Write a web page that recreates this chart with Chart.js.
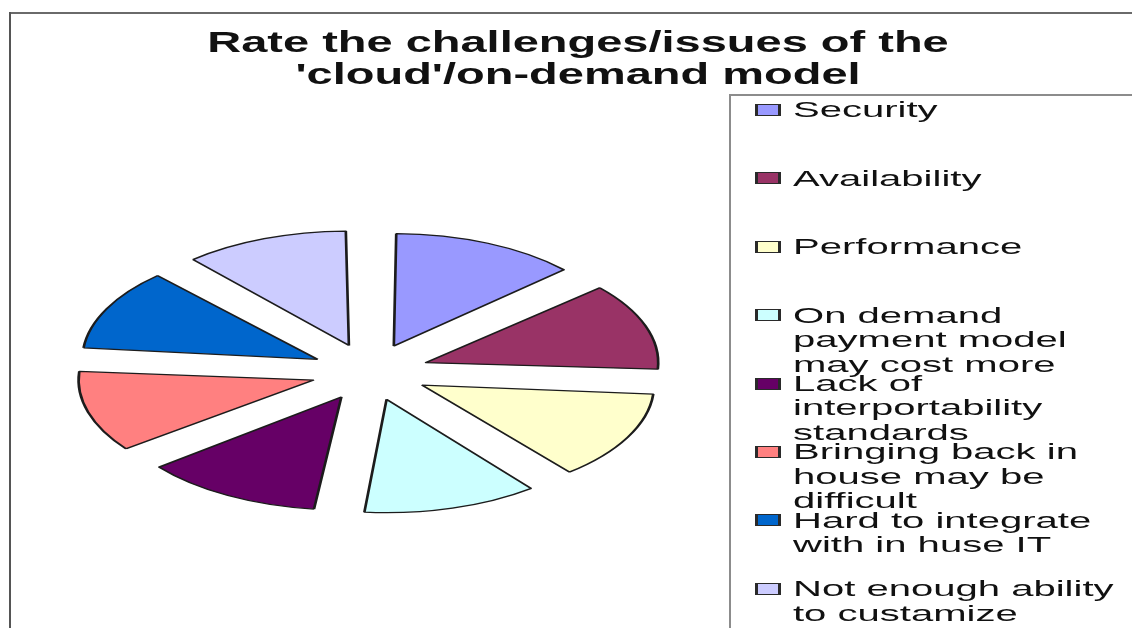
<!DOCTYPE html>
<html>
<head>
<meta charset="utf-8">
<script src="https://cdn.jsdelivr.net/npm/chart.js@4.4.1/dist/chart.umd.min.js"></script>
<style>
  html, body { margin:0; padding:0; background:#fff; width:1132px; height:628px; overflow:hidden; }
  body { position:relative; font-family:"Liberation Sans", Arial, sans-serif; color:#111; }
  #pie { position:absolute; left:0; top:0; }
  .frame-top { position:absolute; left:9px; top:12px; width:1123px; height:2px; background:#6a6a6a; }
  .frame-left { position:absolute; left:9px; top:12px; width:2px; height:616px; background:#555; }
  .leg-box { position:absolute; left:729px; top:94px; width:420px; height:560px; border-left:2px solid #8c8c8c; border-top:2px solid #8c8c8c; }
  .txt { position:absolute; white-space:nowrap; }
  .mk { position:absolute; box-sizing:border-box; border-style:solid; border-color:#2a2a2a; border-width:1.5px 3px; }
</style>
</head>
<body>
<div class="frame-top"></div>
<div class="frame-left"></div>
<div class="leg-box"></div>
<canvas id="pie" width="1132" height="628"></canvas>
<script>
// ---- data ----
const titleLines = ["Rate the challenges/issues of the", "'cloud'/on-demand model"];
const categories = [
  "Security",
  "Availability",
  "Performance",
  "On demand\npayment model\nmay cost more",
  "Lack of\ninterportability\nstandards",
  "Bringing back in\nhouse may be\ndifficult",
  "Hard to integrate\nwith in huse IT",
  "Not enough ability\nto custamize"
];
const shares = [13.3, 12.8, 13.1, 12.5, 12.8, 11.9, 11.9, 11.7];
const colors = ["#9999FF", "#993366", "#FFFFCC", "#CCFFFF", "#660066", "#FF8080", "#0066CC", "#CCCCFF"];

// ---- text helpers ----
function addText(str, opts) {
  const d = document.createElement('div');
  d.className = 'txt';
  d.textContent = str;
  const fs = opts.size;
  d.style.fontSize = fs + 'px';
  d.style.lineHeight = fs + 'px';
  d.style.fontWeight = opts.bold ? 'bold' : 'normal';
  d.style.top = (opts.baseline - 0.8465 * fs) + 'px';
  d.style.left = opts.x + 'px';
  if (opts.center) {
    d.style.transformOrigin = '50% 50%';
    d.style.transform = 'translateX(-50%) scaleX(' + opts.sx + ')';
  } else {
    d.style.transformOrigin = '0 50%';
    d.style.transform = 'scaleX(' + opts.sx + ')';
  }
  document.body.appendChild(d);
}

// title
titleLines.forEach((t, i) => addText(t, { size: 29, bold: true, baseline: 53 + i * 32, x: 578, center: true, sx: 1.62 }));

// legend
categories.forEach((lab, i) => {
  const b0 = 118 + 68.4 * i;
  const m = document.createElement('div');
  m.className = 'mk';
  m.style.left = '755px';
  m.style.top = (b0 - 14) + 'px';
  m.style.width = '26px';
  m.style.height = '12px';
  m.style.background = colors[i];
  document.body.appendChild(m);
  lab.split('\n').forEach((line, j) => addText(line, { size: 22, baseline: b0 + 24.5 * j, x: 793, sx: 1.82 }));
});

// ---- pie (drawn by Chart.js, stretched horizontally like the reference) ----
const stretchX = 2.06;
const stretch = {
  id: 'stretch',
  beforeDatasetsDraw(chart) {
    const a = chart.chartArea, c = chart.ctx;
    const cx = (a.left + a.right) / 2, cy = (a.top + a.bottom) / 2;
    c.save();
    c.translate(cx, cy); c.scale(stretchX, 1); c.translate(-cx, -cy);
  },
  afterDatasetsDraw(chart) { chart.ctx.restore(); }
};

new Chart(document.getElementById('pie'), {
  type: 'pie',
  data: {
    labels: categories.map(s => s.replace(/\n/g, ' ')),
    datasets: [{
      data: shares,
      backgroundColor: colors,
      borderColor: '#1c1c1c',
      borderWidth: 1.3,
      offset: 114,
      hoverOffset: 0,
      clip: false
    }]
  },
  options: {
    responsive: false,
    animation: false,
    events: [],
    radius: 105,
    layout: { padding: { left: 220, right: 612, top: 222, bottom: 106 } },
    plugins: { legend: { display: false }, title: { display: false }, tooltip: { enabled: false } }
  },
  plugins: [stretch]
});
</script>
</body>
</html>
